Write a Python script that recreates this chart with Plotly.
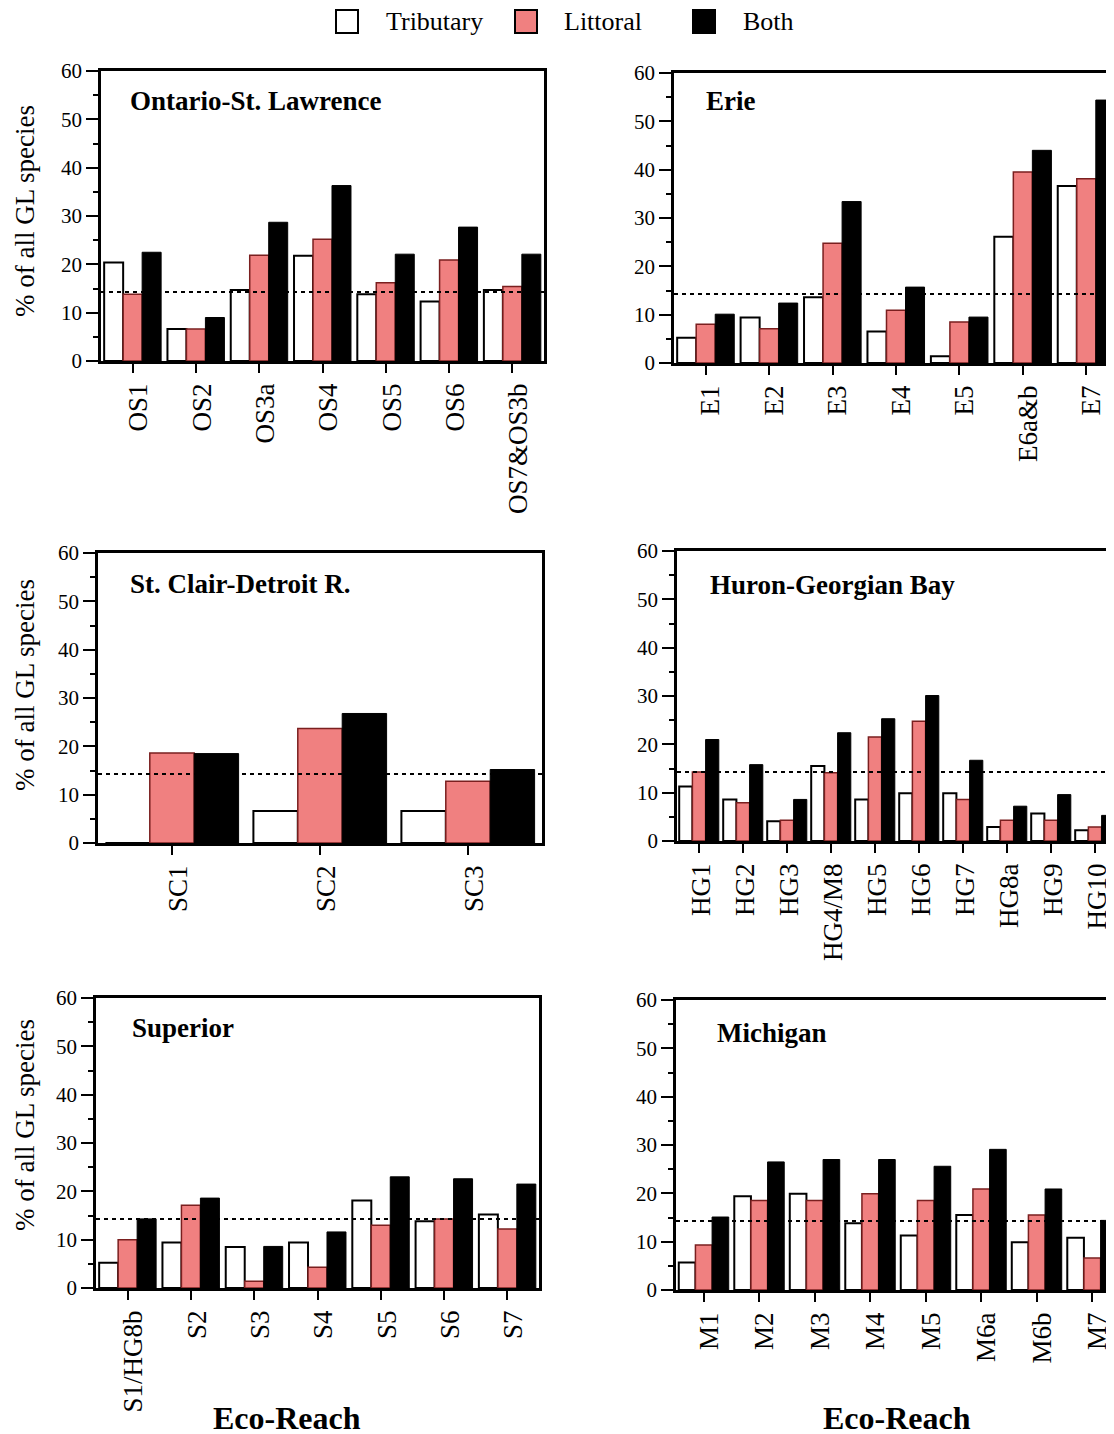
import plotly.graph_objects as go

W, H = 1114, 1434
OFF = 8  # page body margin in the browser
FONT = "Liberation Serif, Times New Roman, serif"

# ---------------- data ----------------
series_names = ["Tributary", "Littoral", "Both"]

os_cats = ["OS1", "OS2", "OS3a", "OS4", "OS5", "OS6", "OS7&OS3b"]
os_trib = [20.4, 6.6, 14.7, 21.8, 13.8, 12.3, 14.7]
os_litt = [13.8, 6.6, 21.9, 25.2, 16.2, 20.9, 15.4]
os_both = [22.5, 9.0, 28.7, 36.3, 22.1, 27.7, 22.1]

e_cats = ["E1", "E2", "E3", "E4", "E5", "E6a&b", "E7"]
e_trib = [5.2, 9.4, 13.6, 6.5, 1.4, 26.1, 36.6]
e_litt = [8.0, 7.1, 24.8, 10.9, 8.5, 39.5, 38.1]
e_both = [10.1, 12.4, 33.4, 15.7, 9.5, 44.0, 54.4]

sc_cats = ["SC1", "SC2", "SC3"]
sc_trib = [0.0, 6.6, 6.6]
sc_litt = [18.6, 23.7, 12.8]
sc_both = [18.5, 26.8, 15.2]

hg_cats = ["HG1", "HG2", "HG3", "HG4/M8", "HG5", "HG6", "HG7", "HG8a", "HG9", "HG10"]
hg_trib = [11.3, 8.6, 4.1, 15.5, 8.6, 9.9, 9.9, 2.9, 5.7, 2.2]
hg_litt = [14.3, 7.9, 4.3, 14.1, 21.5, 24.8, 8.6, 4.3, 4.3, 2.9]
hg_both = [21.0, 15.8, 8.6, 22.4, 25.3, 30.1, 16.7, 7.2, 9.6, 5.3]

s_cats = ["S1/HG8b", "S2", "S3", "S4", "S5", "S6", "S7"]
s_trib = [5.2, 9.4, 8.5, 9.4, 18.1, 13.8, 15.2]
s_litt = [10.0, 17.1, 1.4, 4.3, 13.0, 14.3, 12.2]
s_both = [14.3, 18.6, 8.6, 11.6, 23.0, 22.6, 21.5]

m_cats = ["M1", "M2", "M3", "M4", "M5", "M6a", "M6b", "M7"]
m_trib = [5.7, 19.4, 19.9, 13.8, 11.3, 15.5, 9.9, 10.8]
m_litt = [9.3, 18.5, 18.5, 19.9, 18.5, 20.9, 15.5, 6.6]
m_both = [15.1, 26.5, 27.0, 27.0, 25.6, 29.1, 20.9, 14.4]

ref_level = 14.3  # dotted reference line (% of all GL species)

panel_titles = ["Ontario-St. Lawrence", "Erie", "St. Clair-Detroit R.",
                "Huron-Georgian Bay", "Superior", "Michigan"]
y_title = "% of all GL species"
x_title = "Eco-Reach"

panels = [
    (os_cats, os_trib, os_litt, os_both),
    (e_cats, e_trib, e_litt, e_both),
    (sc_cats, sc_trib, sc_litt, sc_both),
    (hg_cats, hg_trib, hg_litt, hg_both),
    (s_cats, s_trib, s_litt, s_both),
    (m_cats, m_trib, m_litt, m_both),
]

# ---------------- layout geometry (screen pixels) ----------------
# (left, top, right, bottom, tick-label shift)
boxes = [
    (101, 71, 544, 361, 6),
    (674, 73, 1118, 363, 5),
    (98, 553, 542, 843, 6),
    (677, 551, 1117, 841, 2),
    (96, 998, 539, 1288, 6),
    (676, 1000, 1120, 1290, 5),
]
title_pos = [(128, 101), (704, 101), (128, 584), (708, 585), (130, 1028), (715, 1033)]
ytitle_pos = [(25, 211), (25, 685), (25, 1125)]

fill = {"Tributary": "white", "Littoral": "#F08080", "Both": "black"}
edge = {"Tributary": "black", "Littoral": "#7a1f1f", "Both": "black"}
edgew = {"Tributary": 2, "Littoral": 1.5, "Both": 1}

fig = go.Figure()
layout = dict(
    width=W, height=H, margin=dict(l=0, r=0, t=0, b=0, pad=0),
    autosize=False,
    paper_bgcolor="white", plot_bgcolor="white",
    barmode="group", bargap=0.1, bargroupgap=0.0,
    showlegend=False, font=dict(family=FONT, color="black"),
)
shapes = []
annotations = []

def px(x):
    return (x - OFF) / W

def py(y):
    return 1 - (y - OFF) / H

for i, ((cats, tr, li, bo), (l, t, r, b, shift)) in enumerate(zip(panels, boxes)):
    n = i + 1
    xa = "x" if n == 1 else f"x{n}"
    ya = "y" if n == 1 else f"y{n}"
    for name, vals in zip(series_names, (tr, li, bo)):
        fig.add_trace(go.Bar(
            x=cats, y=vals, name=name, xaxis=xa, yaxis=ya,
            marker=dict(color=fill[name], line=dict(color=edge[name], width=edgew[name])),
            hoverinfo="x+y+name",
        ))
    layout["xaxis" if n == 1 else f"xaxis{n}"] = dict(
        domain=[px(l), px(r)], anchor=ya, type="category", automargin=False,
        range=[-0.5, len(cats) - 0.5], showline=True, linecolor="black", linewidth=2.5,
        mirror=True, ticks="outside", ticklen=9, tickwidth=2, tickcolor="black",
        tickangle=-90, ticklabelshift=shift,
        tickfont=dict(family=FONT, size=27, color="black"),
        showgrid=False, zeroline=False, fixedrange=True,
    )
    layout["yaxis" if n == 1 else f"yaxis{n}"] = dict(
        domain=[py(b), py(t)], anchor=xa, range=[0, 60], dtick=10, automargin=False,
        showline=True, linecolor="black", linewidth=2.5, mirror=True,
        ticks="outside", ticklen=12, tickwidth=2, tickcolor="black",
        minor=dict(dtick=5, ticks="outside", ticklen=5, tickwidth=2, tickcolor="black"),
        tickfont=dict(family=FONT, size=21, color="black"),
        showgrid=False, zeroline=False, fixedrange=True,
    )
    shapes.append(dict(
        type="line", xref=f"{xa} domain", yref=ya, x0=0, x1=1,
        y0=ref_level, y1=ref_level, layer="above",
        line=dict(color="black", width=2, dash="4px,4px"),
    ))
    tx, ty = title_pos[i]
    annotations.append(dict(
        text=f"<b>{panel_titles[i]}</b>", x=px(tx), y=py(ty), xref="paper", yref="paper",
        xanchor="left", yanchor="middle", showarrow=False,
        font=dict(family=FONT, size=27, color="black"),
    ))

for (tx, ty) in ytitle_pos:
    annotations.append(dict(
        text=y_title, x=px(tx), y=py(ty), xref="paper", yref="paper",
        xanchor="center", yanchor="middle", textangle=-90, showarrow=False,
        font=dict(family=FONT, size=27, color="black"),
    ))

for cx in (287, 897):
    annotations.append(dict(
        text=f"<b>{x_title}</b>", x=px(cx), y=py(1418), xref="paper", yref="paper",
        xanchor="center", yanchor="middle", showarrow=False,
        font=dict(family=FONT, size=32, color="black"),
    ))

# legend (drawn as keys + labels)
legend_keys = [(336, 385), (515, 563), (693, 742)]
for name, (sx, tx) in zip(series_names, legend_keys):
    shapes.append(dict(
        type="rect", xref="paper", yref="paper",
        x0=px(sx), x1=px(sx + 22), y0=py(33), y1=py(10),
        fillcolor=fill[name], line=dict(color="black", width=2),
    ))
    annotations.append(dict(
        text=name, x=px(tx), y=py(22), xref="paper", yref="paper",
        xanchor="left", yanchor="middle", showarrow=False, borderpad=0,
        font=dict(family=FONT, size=26, color="black"),
    ))

layout["shapes"] = shapes
layout["annotations"] = annotations
fig.update_layout(**layout)
fig.write_html("out.html")
